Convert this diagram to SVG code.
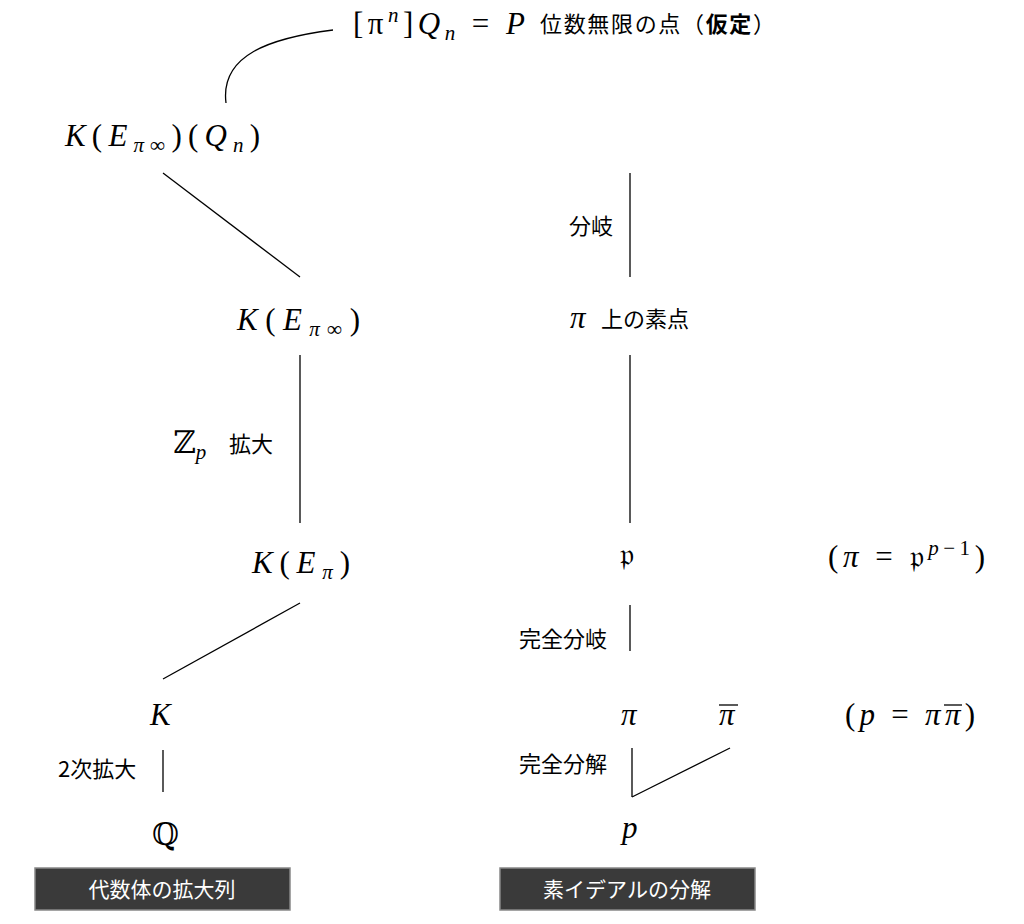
<svg xmlns="http://www.w3.org/2000/svg" width="1024" height="924" viewBox="0 0 1024 924">
<style>
.m{font-family:"Liberation Serif","DejaVu Serif",serif;font-size:31px;font-style:italic;fill:#000}
.r{font-style:normal}
.j{font-family:"Noto Sans CJK JP","Noto Sans",sans-serif;font-size:22px;fill:#000}
.l{stroke:#000;stroke-width:1.3;fill:none}
.box{fill:#3a3a3a;stroke:#888;stroke-width:1.5}
.bt{font-family:"Noto Sans CJK JP",sans-serif;font-size:21px;fill:#fff;text-anchor:middle}
.sub{font-size:21px}
</style>
<rect width="1024" height="924" fill="#fff"/>
<g id="connectors">
<path class="l" d="M333,30 C270,38 220,55 226,103"/>
<line class="l" x1="163" y1="173" x2="300" y2="277"/>
<line class="l" x1="300" y1="355" x2="300" y2="523"/>
<line class="l" x1="300" y1="603" x2="163" y2="679"/>
<line class="l" x1="163" y1="750" x2="163" y2="792"/>
<line class="l" x1="630" y1="173" x2="630" y2="277"/>
<line class="l" x1="630" y1="355" x2="630" y2="523"/>
<line class="l" x1="630" y1="605" x2="630" y2="651"/>
<line class="l" x1="632" y1="748" x2="632" y2="797"/>
<line class="l" x1="632" y1="797" x2="730" y2="748"/>
</g>
<g id="top"><text class="m" x="353" y="34" textLength="172" lengthAdjust="spacing"><tspan class="r">[π</tspan><tspan class="sub" dy="-12">n</tspan><tspan class="r" dy="12">]</tspan>Q<tspan class="sub" dy="6">n</tspan><tspan class="r" dy="-6"> = </tspan>P</text>
<text class="j" x="540" y="32" textLength="235">位数無限の点（<tspan font-weight="bold">仮定</tspan>）</text></g>
<g id="KEQ"><text class="m" x="65" y="146" textLength="195" lengthAdjust="spacing">K<tspan class="r">(</tspan>E<tspan class="sub" dy="6">π∞</tspan><tspan class="r" dy="-6">)(</tspan>Q<tspan class="sub" dy="6">n</tspan><tspan class="r" dy="-6">)</tspan></text></g>
<g id="KEinf"><text class="m" x="237" y="330" textLength="123" lengthAdjust="spacing">K<tspan class="r">(</tspan>E<tspan class="sub" dy="6">π∞</tspan><tspan class="r" dy="-6">)</tspan></text></g>
<g id="zp"><text class="m r" x="173" y="453">ℤ<tspan class="sub" font-style="italic" dy="6">p</tspan></text><text class="j" x="229" y="452">拡大</text></g>
<g id="KE"><text class="m" x="252" y="573" textLength="98" lengthAdjust="spacing">K<tspan class="r">(</tspan>E<tspan class="sub" dy="6">π</tspan><tspan class="r" dy="-6">)</tspan></text></g>
<g id="K"><text class="m" x="150" y="725">K</text></g>
<g id="q2"><text class="j" x="58" y="777">2次拡大</text></g>
<g id="Q"><text class="m r" x="152" y="845">ℚ</text></g>
<g id="box1"><rect class="box" x="35" y="868" width="255" height="42"/><text class="bt" x="162" y="897">代数体の拡大列</text></g>
<g id="bunki"><text class="j" x="569" y="234">分岐</text></g>
<g id="pu"><text class="m" x="570" y="328">π</text><text class="j" x="601" y="327">上の素点</text></g>
<g id="frak"><text class="m r" x="620" y="565">𝔭</text><text class="m r" x="828" y="567" textLength="157" lengthAdjust="spacing">(<tspan font-style="italic">π</tspan> = 𝔭<tspan class="sub" font-style="italic" dy="-12">p</tspan><tspan class="sub" dy="0">−1</tspan><tspan dy="12">)</tspan></text></g>
<g id="kb"><text class="j" x="519" y="647">完全分岐</text></g>
<g id="pi"><text class="m" x="621" y="725">π</text></g>
<g id="pib"><text class="m" x="719" y="725">π</text><line class="l" x1="719" y1="705" x2="738" y2="705"/></g>
<g id="ppp"><text class="m" x="845" y="725" textLength="130" lengthAdjust="spacing"><tspan class="r">(</tspan>p <tspan class="r">= </tspan>ππ<tspan class="r">)</tspan></text><line class="l" x1="944" y1="705" x2="962" y2="705"/></g>
<g id="kd"><text class="j" x="519" y="772">完全分解</text></g>
<g id="p"><text class="m" x="622" y="838">p</text></g>
<g id="box2"><rect class="box" x="500" y="868" width="255" height="42"/><text class="bt" x="627" y="897">素イデアルの分解</text></g>
</svg>
